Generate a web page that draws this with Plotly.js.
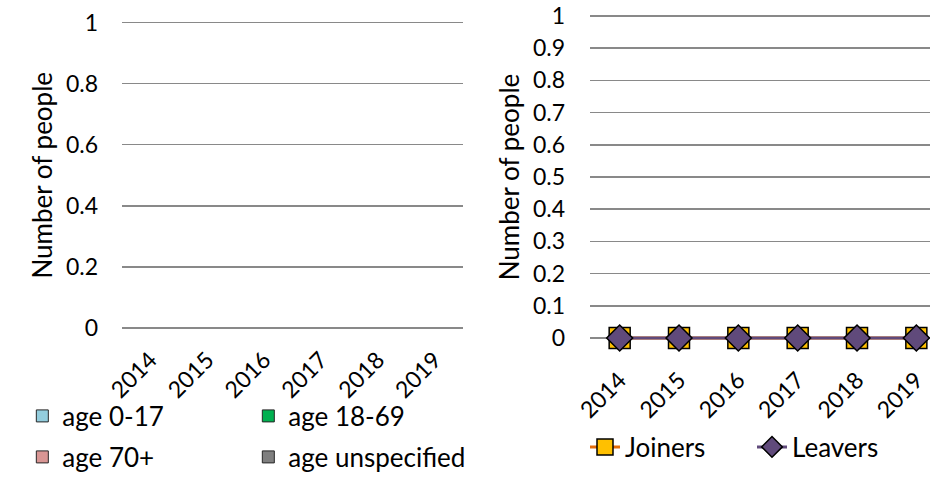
<!DOCTYPE html>
<html>
<head>
<meta charset="utf-8">
<script src="https://cdn.plot.ly/plotly-3.0.1.min.js"></script>
<style>html,body{margin:0;padding:0;background:#fff}#chart{width:930px;height:477px}</style>
</head>
<body>
<div id="chart"></div>
<script>
const years = ['2014', '2015', '2016', '2017', '2018', '2019'];
const age0to17 = [0, 0, 0, 0, 0, 0];
const age18to69 = [0, 0, 0, 0, 0, 0];
const age70plus = [0, 0, 0, 0, 0, 0];
const ageUnspecified = [0, 0, 0, 0, 0, 0];
const joiners = [0, 0, 0, 0, 0, 0];
const leavers = [0, 0, 0, 0, 0, 0];
const leftTicks = [0, 0.2, 0.4, 0.6, 0.8, 1];
const rightTicks = [0, 0.1, 0.2, 0.3, 0.4, 0.5, 0.6, 0.7, 0.8, 0.9, 1];

const FONT = 'Lato, "Open Sans", sans-serif';
const GRID = '#898989';
const TXT = 26;
const TICK = 23;

function bar(name, y, color, legend) {
  return {type: 'bar', name: name, x: years, y: y, xaxis: 'x', yaxis: 'y', legend: legend,
    marker: {color: color, line: {color: '#262626', width: 1}}};
}

const traces = [
  bar('age 0-17', age0to17, '#93CDDD', 'legend'),
  bar('age 18-69', age18to69, '#00B050', 'legend'),
  bar('age 70+', age70plus, '#D99694', 'legend2'),
  bar('age unspecified', ageUnspecified, '#7F7F7F', 'legend2'),
  {type: 'scatter', mode: 'lines+markers', name: 'Joiners', x: years, y: joiners, xaxis: 'x2', yaxis: 'y2',
    legend: 'legend3', cliponaxis: false,
    line: {color: '#E46C0A', width: 3},
    marker: {symbol: 'square', size: 21, color: '#FFC000', line: {color: '#000', width: 1.5}}},
  {type: 'scatter', mode: 'lines+markers', name: 'Leavers', x: years, y: leavers, xaxis: 'x2', yaxis: 'y2',
    legend: 'legend3', cliponaxis: false,
    line: {color: '#604A7B', width: 3},
    marker: {symbol: 'diamond', size: 20, color: '#604A7B', line: {color: '#000', width: 1.5}}}
];

const tickFont = {family: FONT, size: TICK, color: '#000'};
const txtFont = {family: FONT, size: TXT, color: '#000'};
const E = 0.01;

// left plot: value 0 at y=328px, value 1 at y=22.5px
const lPer = 305.5, lTop = 22.5 - E * lPer, lBot = 328 + E * lPer;
// right plot: value 0 at y=338px, value 1 at y=16px
const rPer = 322, rTop = 16 - E * rPer, rBot = 338 + E * rPer;

const layout = {
  width: 930, height: 477,
  margin: {l: 0, r: 0, t: 0, b: 0, autoexpand: false},
  paper_bgcolor: '#fff', plot_bgcolor: 'rgba(0,0,0,0)',
  font: txtFont,
  barmode: 'stack',
  showlegend: true,
  xaxis: {domain: [122/930, 463/930], anchor: 'y', type: 'category', categoryorder: 'array', categoryarray: years,
    tickangle: -45, tickfont: tickFont, showgrid: false, showline: false, ticks: '', ticklabelstandoff: 10},
  yaxis: {domain: [1 - lBot/477, 1 - lTop/477], anchor: 'x', range: [-E, 1 + E], tickvals: leftTicks,
    ticktext: leftTicks.map(String),
    tickfont: tickFont, showgrid: true, gridcolor: GRID, gridwidth: 1.5, zeroline: true, zerolinecolor: GRID, zerolinewidth: 1.5,
    zerolinelayer: 'above traces',
    showline: false, ticks: '', ticklabelstandoff: 23,
    title: {text: 'Number of people', font: txtFont, standoff: 5}},
  xaxis2: {domain: [590/930, 1], anchor: 'y2', type: 'category', categoryorder: 'array', categoryarray: years,
    range: [-0.5, 5.23], tickangle: -45, tickfont: tickFont, showgrid: false, showline: false, ticks: '', ticklabelstandoff: 20},
  yaxis2: {domain: [1 - rBot/477, 1 - rTop/477], anchor: 'x2', range: [-E, 1 + E], tickvals: rightTicks,
    ticktext: rightTicks.map(String),
    tickfont: tickFont, showgrid: true, gridcolor: GRID, gridwidth: 1.5, zeroline: true, zerolinecolor: GRID, zerolinewidth: 1.5,
    showline: false, ticks: '', ticklabelstandoff: 24,
    title: {text: 'Number of people', font: txtFont, standoff: 5}},
  legend: {orientation: 'h', x: 0.024, xanchor: 'left', y: 1 - 416/477, yanchor: 'middle',
    entrywidth: 181, traceorder: 'normal', font: txtFont, bgcolor: 'rgba(0,0,0,0)'},
  legend2: {orientation: 'h', x: 0.024, xanchor: 'left', y: 1 - 457/477, yanchor: 'middle',
    entrywidth: 181, traceorder: 'normal', font: txtFont, bgcolor: 'rgba(0,0,0,0)'},
  legend3: {orientation: 'h', x: 585/930, xanchor: 'left', y: 1 - 447/477, yanchor: 'middle',
    entrywidth: 122, traceorder: 'normal', font: txtFont, bgcolor: 'rgba(0,0,0,0)'}
};

Plotly.newPlot('chart', traces, layout, {displayModeBar: false, staticPlot: true});
</script>
</body>
</html>
